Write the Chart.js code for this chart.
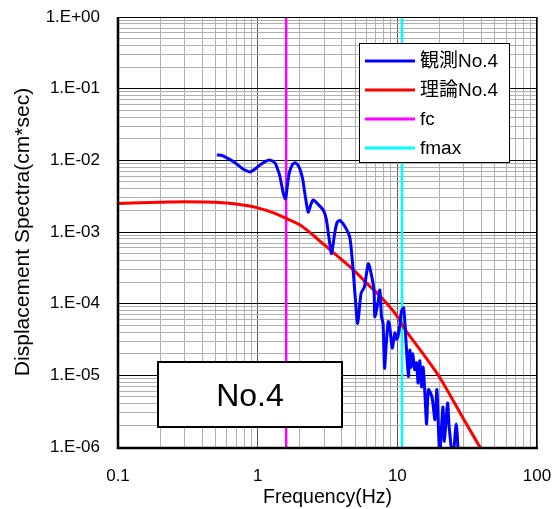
<!DOCTYPE html>
<html>
<head>
<meta charset="utf-8">
<script src="https://cdn.jsdelivr.net/npm/chart.js@4/dist/chart.umd.min.js"></script>
<style>
html,body{margin:0;padding:0;background:#fff;}
#wrap{width:554px;height:509px;}
</style>
</head>
<body>
<div id="wrap"><canvas id="c" width="554" height="509"></canvas></div>
<script>
// ---- data ----
const obsFreq = [0.51,0.56,0.62,0.67,0.74,0.79,0.88,0.96,1.04,1.13,1.22,1.33,1.40,1.44,1.52,1.58,1.64,1.69,1.78,1.88,2.0,2.1,2.17,2.3,2.4,2.5,2.7,2.96,3.1,3.25,3.38,3.56,3.7,3.86,4.2,4.56,4.8,5.0,5.2,5.5,5.8,6.2,6.5,6.8,6.9,7.1,7.3,7.5,7.7,7.9,8.1,8.3,8.6,8.8,9.2,9.6,9.9,10.1,10.4,10.7,11.1,11.6,12.0,12.3,12.5,12.9,13.3,13.7,14.1,14.5,14.9,15.3,15.8,16.2,16.7,17.7,18.6,19.2,20.1,21.2,21.7,22.9,23.5,25.0,26.4,27.4];
const obsVal = [1.19e-2,1.16e-2,1.05e-2,9.6e-3,8.3e-3,7.5e-3,6.9e-3,7.6e-3,8.6e-3,9.6e-3,1.01e-2,9.2e-3,7.2e-3,6.1e-3,3.6e-3,2.9e-3,4.8e-3,6.9e-3,8.8e-3,9.2e-3,7.7e-3,5.5e-3,3.6e-3,1.9e-3,2.4e-3,2.8e-3,2.45e-3,2.0e-3,1.5e-3,8e-4,5.0e-4,9.6e-4,1.35e-3,1.45e-3,1.2e-3,8.5e-4,3.3e-4,1.2e-4,5.3e-5,1.4e-4,1.7e-4,3.6e-4,2.6e-4,1.55e-4,6.6e-5,8.2e-5,1.1e-4,1.55e-4,6.6e-5,5.3e-5,1.26e-5,2.5e-5,5.6e-5,5.0e-5,2.4e-5,3.9e-5,3.2e-5,3.5e-5,4.8e-5,7.8e-5,8.7e-5,2.5e-5,9.6e-6,2.25e-5,1.3e-5,2.0e-5,1.2e-5,1.5e-5,7.8e-6,1.6e-5,6.9e-6,1.3e-5,5e-6,2.1e-6,6.3e-6,5.0e-6,2.4e-6,6.3e-6,8e-7,3.6e-6,1.2e-6,4.1e-6,1.9e-6,7e-7,2.1e-6,7e-7];
const theoFreq = [0.1,0.2,0.3,0.5,0.7,1.0,1.3,1.6,2.0,2.5,3.0,4.0,5.0,6.0,7.0,8.0,10.0,11.0,15.0,20.0,30.0,39.0,45.0];
const theoVal = [2.5e-3,2.6e-3,2.65e-3,2.6e-3,2.45e-3,2.17e-3,1.85e-3,1.55e-3,1.26e-3,9.0e-4,6.6e-4,4.1e-4,2.8e-4,1.95e-4,1.47e-4,1.12e-4,6.6e-5,4.8e-5,2.1e-5,9.5e-6,2.4e-6,1.0e-6,6.2e-7];
const fc = 1.6;
const fmax = 10.8;
const seriesLabels = ['観測No.4','理論No.4','fc','fmax'];
const seriesColors = ['#0000ff','#ff0000','#ff00ff','#00ffff'];
const xMin = 0.1, xMax = 100;
const yMin = 1e-6, yMax = 1;
const xTitle = 'Frequency(Hz)';
const yTitle = 'Displacement Spectra(cm*sec)';
const boxText = 'No.4';

// ---- helpers ----
const FONT = '"Liberation Sans", Arial, "Noto Sans CJK JP", sans-serif';
function isMajor(v){ const l = Math.log10(v); return Math.abs(l - Math.round(l)) < 1e-6; }
function logTicks(min, max){
  const out = [];
  for (let e = Math.round(Math.log10(min)); e < Math.round(Math.log10(max)); e++){
    for (let m = 1; m <= 9; m++) out.push({value: m * Math.pow(10, e)});
  }
  out.push({value: max});
  return out;
}
function yLabel(v){
  const e = Math.round(Math.log10(v));
  return '1.E' + (e >= 0 ? '+' : '-') + String(Math.abs(e)).padStart(2,'0');
}
function xLabel(v){
  const e = Math.round(Math.log10(v));
  return e < 0 ? Number(v.toFixed(-e)).toString() : String(Math.round(v));
}
const zip = (xs, ys) => xs.map((x,i) => ({x, y: ys[i]}));

Chart.defaults.font.family = FONT;
Chart.defaults.color = '#000';

const overlay = {
  id: 'overlay',
  afterDatasetsDraw(chart){
    const ctx = chart.ctx;
    const a = chart.chartArea;
    ctx.save();
    // frame
    ctx.strokeStyle = '#000';
    ctx.lineWidth = 1;
    ctx.strokeRect(a.left + 0.5, a.top + 0.5, a.right - a.left - 1, a.bottom - a.top);
    ctx.lineWidth = 2.5;
    ctx.beginPath();
    ctx.moveTo(a.left, a.top); ctx.lineTo(a.left, a.bottom + 1); ctx.lineTo(a.right + 1, a.bottom + 1);
    ctx.stroke();

    // legend box
    const lx = 359, ly = 43, lw = 150, lh = 119;
    ctx.fillStyle = '#fff';
    ctx.fillRect(lx, ly, lw, lh);
    ctx.lineWidth = 1;
    ctx.strokeStyle = '#000';
    ctx.strokeRect(lx + 0.5, ly + 0.5, lw, lh);
    ctx.font = '19px ' + FONT;
    ctx.textBaseline = 'middle';
    ctx.textAlign = 'left';
    chart.data.datasets.forEach((ds, i) => {
      const y = ly + 18 + i * 29;
      ctx.strokeStyle = ds.borderColor;
      ctx.lineWidth = 3;
      ctx.beginPath(); ctx.moveTo(lx + 6, y); ctx.lineTo(lx + 56, y); ctx.stroke();
      ctx.fillStyle = '#000';
      ctx.fillText(ds.label, lx + 61, y + 1);
    });

    // No.4 box
    const bx = 158, by = 362, bw = 184, bh = 65;
    ctx.fillStyle = '#fff';
    ctx.fillRect(bx, by, bw, bh);
    ctx.lineWidth = 2;
    ctx.strokeStyle = '#000';
    ctx.strokeRect(bx, by, bw, bh);
    ctx.fillStyle = '#000';
    ctx.font = '32px ' + FONT;
    ctx.textAlign = 'center';
    ctx.fillText(boxText, bx + bw/2, by + bh/2 + 3);
    ctx.restore();
  }
};

new Chart(document.getElementById('c'), {
  type: 'scatter',
  data: {
    datasets: [
      {label: seriesLabels[0], data: zip(obsFreq, obsVal), showLine: true, borderColor: seriesColors[0], borderWidth: 3, pointRadius: 0, tension: 0.25},
      {label: seriesLabels[1], data: zip(theoFreq, theoVal), showLine: true, borderColor: seriesColors[1], borderWidth: 3, pointRadius: 0, cubicInterpolationMode: 'monotone'},
      {label: seriesLabels[2], data: [{x: fc, y: yMin}, {x: fc, y: yMax}], showLine: true, borderColor: seriesColors[2], borderWidth: 2.5, pointRadius: 0},
      {label: seriesLabels[3], data: [{x: fmax, y: yMin}, {x: fmax, y: yMax}], showLine: true, borderColor: seriesColors[3], borderWidth: 2.5, pointRadius: 0}
    ]
  },
  options: {
    responsive: false,
    animation: false,
    devicePixelRatio: 1,
    layout: {padding: {top: 17, right: 17, left: 0, bottom: 0}},
    plugins: {legend: {display: false}, tooltip: {enabled: false}},
    scales: {
      x: {
        type: 'logarithmic', min: xMin, max: xMax,
        afterBuildTicks(s){ s.ticks = logTicks(xMin, xMax); },
        afterFit(s){ s.height = 62; s.paddingLeft = 0; s.paddingRight = 0; },
        border: {display: false},
        grid: {drawTicks: false, color: c => isMajor(c.tick.value) ? '#555' : '#b0b0b0', lineWidth: 1},
        ticks: {autoSkip: false, maxRotation: 0, padding: 19, font: {size: 17}, callback: v => isMajor(v) ? xLabel(v) : ''},
        title: {display: true, text: xTitle, font: {size: 19.5}, padding: {top: 0, bottom: 0}}
      },
      y: {
        type: 'logarithmic', min: yMin, max: yMax,
        afterBuildTicks(s){ s.ticks = logTicks(yMin, yMax); },
        afterFit(s){ s.width = 118; s.paddingTop = 0; s.paddingBottom = 0; },
        border: {display: false},
        grid: {drawTicks: false, color: c => isMajor(c.tick.value) ? '#000' : '#b0b0b0', lineWidth: 1},
        ticks: {autoSkip: false, padding: 18, font: {size: 17}, callback: v => isMajor(v) ? yLabel(v) : ''},
        title: {display: true, text: yTitle, font: {size: 21}, padding: {top: 11, bottom: 0}}
      }
    }
  },
  plugins: [overlay]
});
</script>
</body>
</html>
